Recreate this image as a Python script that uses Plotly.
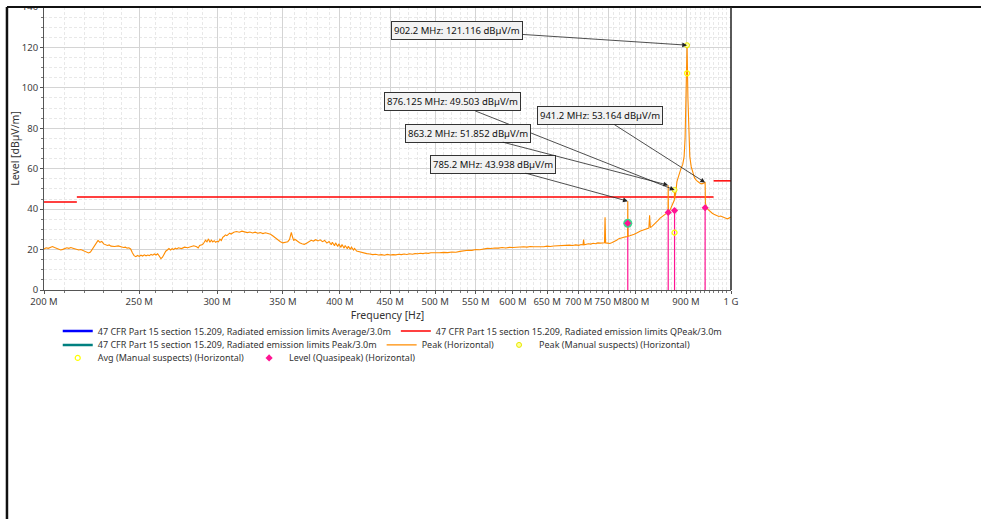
import math
import plotly.graph_objects as go

# ---------------------------------------------------------------
# Radiated emission scan, horizontal polarisation, 200 MHz - 1 GHz
# ---------------------------------------------------------------

# Peak detector sweep (frequency in MHz, level in dBµV/m)
sweep_mhz = [
    200, 201, 202, 203, 204, 205, 206, 207, 208, 209, 210, 211, 212, 213, 214, 215, 216, 217,
    218, 219, 220, 221, 222, 223, 224, 225, 226, 227, 228, 229, 230, 231, 232, 233, 234, 236,
    238, 240, 241, 242, 243, 244, 245, 246, 247, 248, 249, 250, 251, 252, 253, 254, 255, 256,
    257, 258, 259, 260, 261, 262, 263, 264, 265, 266, 267, 268, 269, 270, 271, 272, 273, 274,
    276, 278, 280, 282, 284, 286, 287, 288, 290, 291, 292, 293, 294, 295, 296, 297, 298, 299,
    300, 301, 302, 303, 304, 305, 306, 307, 308, 309, 310, 311, 312, 314, 316, 318, 320, 322,
    324, 326, 328, 330, 332, 334, 336, 338, 340, 342, 344, 346, 348, 350, 352, 354, 355.5, 357,
    358, 359, 360, 362, 364, 366, 368, 370, 372, 374, 376, 378, 380, 382, 384, 386, 388, 390,
    392, 393, 395, 396, 398, 399, 401, 402, 404, 405, 407, 408, 410, 411, 413, 414, 416, 418,
    420, 423, 426, 429, 432, 435, 438, 441, 444, 447, 450, 453, 456, 459, 462, 465, 468, 471,
    474, 477, 480, 483, 486, 489, 492, 495, 498, 501, 505, 510, 515, 520, 525, 530, 535, 540,
    545, 550, 555, 560, 565, 570, 575, 580, 585, 590, 595, 600, 605, 610, 615, 620, 625, 630,
    635, 640, 645, 650, 655, 660, 665, 670, 675, 680, 685, 690, 695, 700, 704, 707, 708, 709,
    712, 716, 720, 724, 728, 732, 736, 740, 743.5, 744.5, 745.5, 749, 753, 757, 761, 765, 769,
    773, 777, 781, 784.8, 785.2, 785.6, 789, 793, 797, 801, 805, 809, 813, 817, 821, 825, 826.4,
    827.8, 831, 835, 839, 843, 847, 851, 855, 859, 862.8, 863.2, 863.6, 867, 870, 873, 875.7,
    876.125, 876.5, 879, 881, 884, 887, 890, 893, 896, 898, 900, 902.2, 904, 906, 908, 911,
    914, 918, 922, 926, 930, 934, 938, 941.2, 941.8, 944, 948, 952, 957, 962, 967, 972, 976,
    980, 984, 988, 992, 996, 1000,
]
sweep_level = [
    20.3, 20.9, 20.6, 21.2, 21.5, 21.0, 20.6, 20.2, 19.8, 20.1, 20.5, 20.9, 20.6, 21.0, 20.7, 20.4, 20.1, 19.8,
    20.0, 19.5, 19.0, 18.5, 18.3, 18.8, 20.3, 21.8, 23.4, 24.5, 23.6, 24.0, 22.8, 22.5, 22.0, 22.3, 21.7, 21.5,
    21.8, 21.3, 21.0, 21.2, 20.7, 20.9, 20.3, 18.4, 17.0, 16.5, 17.1, 16.6, 17.2, 16.8, 17.4, 16.9, 17.3, 17.0,
    17.6, 17.2, 17.8, 17.3, 17.9, 16.8, 15.5, 16.2, 17.9, 19.2, 19.8, 20.5, 19.8, 20.4, 20.0, 20.7, 20.3, 20.9,
    20.5, 21.2, 20.9, 21.6, 21.9, 21.4, 20.8, 22.0, 22.5, 23.5, 24.6, 23.8, 25.3, 23.6, 24.7, 23.8, 24.4, 23.6,
    24.1, 23.8, 25.2, 24.5, 26.0, 26.6, 27.3, 26.9, 27.8, 28.1, 27.7, 28.4, 28.6, 28.9, 28.6, 29.1, 28.8, 28.4,
    28.7, 28.2, 28.6, 28.1, 28.4, 27.9, 28.3, 28.0, 27.6, 26.7, 25.6, 24.8, 23.9, 23.3, 23.6, 23.9, 25.0, 28.5,
    26.2, 24.4, 25.1, 24.0, 23.4, 22.9, 22.6, 23.1, 23.8, 24.6, 24.2, 24.9, 24.3, 24.8, 23.9, 24.5, 23.2, 24.0,
    22.4, 23.6, 21.9, 23.3, 21.5, 22.8, 21.1, 22.5, 20.7, 22.0, 20.4, 21.6, 20.1, 21.2, 19.8, 20.6, 19.3, 19.0,
    18.7, 18.3, 18.0, 17.8, 17.5, 17.7, 17.3, 17.5, 17.2, 17.6, 17.3, 17.5, 17.4, 17.7, 17.5, 17.8, 17.6, 17.9,
    17.7, 18.0, 17.9, 18.2, 18.0, 18.3, 18.1, 18.4, 18.3, 18.5, 18.4, 18.6, 18.5, 18.8, 18.7, 19.1, 19.4, 19.7,
    19.6, 20.0, 19.9, 20.3, 20.6, 20.5, 20.8, 20.7, 21.0, 20.8, 21.1, 21.0, 21.2, 21.1, 21.4, 21.2, 21.5, 21.4,
    21.3, 21.5, 21.4, 21.7, 21.5, 21.8, 21.9, 21.7, 22.0, 21.9, 22.2, 22.0, 22.3, 22.1, 22.5, 22.3, 24.9, 22.4,
    22.6, 22.9, 22.7, 23.1, 22.9, 23.3, 23.2, 23.5, 23.4, 36.0, 23.3, 23.2, 23.0, 23.5, 23.9, 24.6, 25.4,
    25.8, 26.0, 26.3, 26.5, 43.938, 26.6, 26.8, 27.1, 27.6, 28.1, 28.8, 29.2, 29.6, 29.9, 30.3, 30.6, 37.0,
    30.9, 31.5, 32.4, 33.5, 34.4, 35.6, 36.5, 37.2, 37.8, 38.5, 51.852, 38.8, 39.6, 41.2, 43.0, 44.5,
    49.503, 45.0, 49.0, 53.6, 56.0, 58.5, 60.5, 62.0, 66.0, 75.0, 92.0, 121.116, 95.0, 74.0, 66.0, 61.0,
    58.0, 55.5, 54.2, 53.4, 52.8, 52.5, 52.7, 53.164, 43.0, 41.2, 39.8, 38.8, 38.0, 37.3, 36.9, 36.4, 36.6,
    36.1, 35.8, 35.5, 35.2, 35.6, 36.1,
]

# 47 CFR 15.209 quasi-peak limit at 3 m (segments split with None)
qp_limit_mhz = [200, 216, None, 216, 960, None, 960, 1000]
qp_limit_level = [43.5, 43.5, None, 46.0, 46.0, None, 54.0, 54.0]

# Average / peak limits start at 1 GHz (beyond the right edge of this span)
avg_limit_mhz = [1000, 18000]
avg_limit_level = [54.0, 54.0]
pk_limit_mhz = [1000, 18000]
pk_limit_level = [74.0, 74.0]

# Manually selected suspects
peak_suspect_mhz = [876.125, 902.2]
peak_suspect_level = [49.5, 121.1]
avg_suspect_mhz = [876.125, 902.2]
avg_suspect_level = [28.4, 107.2]

# Quasi-peak final measurements
qp_mhz = [785.2, 863.2, 876.125, 941.2]
qp_level = [33.0, 38.4, 39.3, 40.7]
qp_extra_mhz = [785.2]
qp_extra_level = [33.0]

# Marker labels on the peak trace
mark_mhz = [902.2, 876.125, 941.2, 863.2, 785.2]
mark_level = [121.116, 49.503, 53.164, 51.852, 43.938]
mark_box_dx = [-230, -222, -105, -200, -135]
mark_box_dy = [-15, -88, -67, -52, -37]

# x tick labels
tick_mhz = [200, 250, 300, 350, 400, 450, 500, 550, 600, 650, 700, 750, 800, 900, 1000]
tick_text = ["200 M", "250 M", "300 M", "350 M", "400 M", "450 M", "500 M", "550 M",
             "600 M", "650 M", "700 M", "750 M", "800 M", "900 M", "1 G"]
minor_mhz = [m for m in range(210, 1000, 10) if m not in tick_mhz]


def hz(values):
    return [None if v is None else v * 1e6 for v in values]


FONT = "Noto Sans"
ORANGE = "#FF8C00"
RED = "#FF0000"
PINK = "#FF1493"
YELLOW = "#FFFF00"

fig = go.Figure()

fig.add_trace(go.Scatter(
    x=hz(avg_limit_mhz), y=avg_limit_level, mode="lines",
    name="47 CFR Part 15 section 15.209, Radiated emission limits Average/3.0m",
    line=dict(color="#0000FF", width=2.5), legend="legend"))
fig.add_trace(go.Scatter(
    x=hz(qp_limit_mhz), y=qp_limit_level, mode="lines",
    name="47 CFR Part 15 section 15.209, Radiated emission limits QPeak/3.0m",
    line=dict(color=RED, width=1.5), legend="legend"))
fig.add_trace(go.Scatter(
    x=hz(pk_limit_mhz), y=pk_limit_level, mode="lines",
    name="47 CFR Part 15 section 15.209, Radiated emission limits Peak/3.0m",
    line=dict(color="#008080", width=2.5), legend="legend2"))

# QP stems from the axis up to each final reading
stem_x, stem_y = [], []
for f, v in zip(qp_mhz, qp_level):
    stem_x += [f * 1e6, f * 1e6, None]
    stem_y += [0, v, None]
fig.add_trace(go.Scatter(
    x=stem_x, y=stem_y, mode="lines", line=dict(color=PINK, width=1.2),
    showlegend=False, hoverinfo="skip"))

fig.add_trace(go.Scatter(
    x=hz(sweep_mhz), y=sweep_level, mode="lines", name="Peak (Horizontal)",
    line=dict(color=ORANGE, width=1.1), legend="legend2"))

fig.add_trace(go.Scatter(
    x=hz(peak_suspect_mhz), y=peak_suspect_level, mode="markers",
    name="Peak (Manual suspects) (Horizontal)",
    marker=dict(symbol="circle", size=5, color="#FFFF99", line=dict(color="#E8E800", width=1)),
    legend="legend2"))
fig.add_trace(go.Scatter(
    x=hz(avg_suspect_mhz), y=avg_suspect_level, mode="markers",
    name="Avg (Manual suspects) (Horizontal)",
    marker=dict(symbol="circle-open", size=5, color=YELLOW, line=dict(width=1.2)),
    legend="legend3"))
fig.add_trace(go.Scatter(
    x=hz(qp_extra_mhz), y=qp_extra_level, mode="markers",
    marker=dict(symbol="circle", size=9, color="#3DD68C"),
    showlegend=False, hoverinfo="skip"))
fig.add_trace(go.Scatter(
    x=hz(qp_mhz), y=qp_level, mode="markers", name="Level (Quasipeak) (Horizontal)",
    marker=dict(symbol="diamond", size=5.5, color=PINK), legend="legend3"))

for f, v, dx, dy in zip(mark_mhz, mark_level, mark_box_dx, mark_box_dy):
    fig.add_annotation(
        x=math.log10(f * 1e6), y=v, xref="x", yref="y",
        text=f"{f:g} MHz: {v:.3f} dBµV/m",
        showarrow=True, ax=dx, ay=dy, axref="pixel", ayref="pixel",
        arrowhead=2, arrowsize=1.2, arrowwidth=0.8, arrowcolor="#222222",
        font=dict(family=FONT, size=9.5, color="#111111"),
        bgcolor="#F2F2F2", bordercolor="#333333", borderwidth=1, borderpad=2)

# Frame around the chart window
shapes = [
    dict(type="rect", xref="paper", yref="paper", x0=-0.07, x1=1.4, y0=1.003, y1=1.05,
         fillcolor="white", line=dict(width=0), layer="above"),
    dict(type="line", xref="paper", yref="paper", x0=-0.0539, x1=1.4, y0=1.0, y1=1.0,
         line=dict(color="#111111", width=2), layer="above"),
    dict(type="line", xref="paper", yref="paper", x0=-0.0539, x1=-0.0539, y0=1.0, y1=-0.85,
         line=dict(color="#111111", width=2.5), layer="above"),
    dict(type="line", xref="paper", yref="paper", x0=1.0, x1=1.0, y0=0, y1=1.0,
         line=dict(color="#222222", width=1.5), layer="above"),
]

tick_font = dict(family=FONT, size=9.5, color="#404040")
legend_common = dict(orientation="h", xanchor="left", yanchor="middle",
                     font=dict(family=FONT, size=9, color="#333333"),
                     bgcolor="rgba(0,0,0,0)", itemwidth=30, tracegroupgap=0)

fig.update_layout(
    width=981, height=519,
    margin=dict(l=44, r=250, t=7, b=229, pad=0, autoexpand=False),
    paper_bgcolor="white", plot_bgcolor="white",
    font=dict(family=FONT, color="#333333"),
    shapes=shapes,
    legend=dict(x=0.02, y=-0.145, **legend_common),
    legend2=dict(x=0.02, y=-0.194, **legend_common),
    legend3=dict(x=0.02, y=-0.240, **legend_common),
    xaxis=dict(
        type="log", range=[math.log10(200e6), math.log10(1000e6)], automargin=False,
        tickmode="array", tickvals=hz(tick_mhz), ticktext=tick_text, tickangle=0,
        tickfont=tick_font, ticks="outside", ticklen=3, tickcolor="#555555",
        showline=True, linecolor="#555555", linewidth=1,
        showgrid=True, gridcolor="#D4D4D4", gridwidth=1, zeroline=False,
        minor=dict(tickvals=hz(minor_mhz), ticks="outside", ticklen=2, tickcolor="#777777",
                   showgrid=True, gridcolor="#E8E8E8", griddash="3px,2px", gridwidth=1),
        title=dict(text="Frequency [Hz]", font=dict(family=FONT, size=10.5, color="#333333"),
                   standoff=4),
    ),
    yaxis=dict(
        range=[0, 140], automargin=False,
        tickmode="array", tickvals=[0, 20, 40, 60, 80, 100, 120, 140],
        tickfont=tick_font, ticks="outside", ticklen=3, tickcolor="#555555",
        showline=True, linecolor="#555555", linewidth=1,
        showgrid=True, gridcolor="#D4D4D4", gridwidth=1, zeroline=False,
        minor=dict(dtick=5, ticks="outside", ticklen=2, tickcolor="#777777",
                   showgrid=True, gridcolor="#E8E8E8", griddash="3px,2px", gridwidth=1),
        title=dict(text="Level [dBµV/m]", font=dict(family=FONT, size=10.5, color="#333333"),
                   standoff=0),
    ),
)

fig.write_html("out.html")
